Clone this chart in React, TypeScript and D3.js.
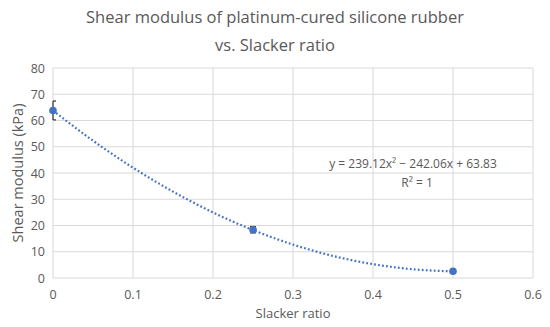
import * as d3 from 'd3'

const ratios = [0, 0.25, 0.5]
const modulus = [63.83, 18.4, 2.6]
const errors = [3.6, 1.2, 0.4]
const trendCoef = [239.12, -242.06, 63.83]
const xTicks = [0, 0.1, 0.2, 0.3, 0.4, 0.5, 0.6]
const yTicks = [0, 10, 20, 30, 40, 50, 60, 70, 80]

const width = 550
const height = 327
const marginLeft = 53
const marginRight = 17
const marginTop = 68
const marginBottom = 49

const font = "'Open Sans', 'Noto Sans', sans-serif"
const textColor = '#595959'
const blue = '#4472C4'

export default function App() {
  const x = d3.scaleLinear([0, 0.6], [marginLeft, width - marginRight])
  const y = d3.scaleLinear([0, 80], [height - marginBottom, marginTop])

  const trendX = d3.range(0, 0.5001, 0.005)
  const trend = d3
    .line<number>()
    .x((v) => x(v))
    .y((v) => y(trendCoef[0] * v * v + trendCoef[1] * v + trendCoef[2]))

  const plotMidX = (x(0) + x(0.6)) / 2

  return (
    <svg
      width={width}
      height={height}
      style={{ position: 'absolute', left: 0, top: 0, background: 'white' }}
      fontFamily={font}
    >
      <text x={275} y={23} textAnchor="middle" fontSize={16.5} fill={textColor}>
        Shear modulus of platinum-cured silicone rubber
      </text>
      <text x={275} y={51} textAnchor="middle" fontSize={16.5} fill={textColor}>
        vs. Slacker ratio
      </text>

      <g stroke="#d9d9d9" strokeWidth={1}>
        {yTicks.map((t) => (
          <line key={'y' + t} x1={x(0)} x2={x(0.6)} y1={y(t)} y2={y(t)} />
        ))}
        {xTicks.map((t) => (
          <line key={'x' + t} x1={x(t)} x2={x(t)} y1={y(0)} y2={y(80)} />
        ))}
      </g>

      <g fontSize={12.5} fill={textColor}>
        {yTicks.map((t) => (
          <text key={t} x={x(0) - 8} y={y(t) + 4.5} textAnchor="end">
            {t}
          </text>
        ))}
        {xTicks.map((t) => (
          <text key={t} x={x(t)} y={y(0) + 21} textAnchor="middle">
            {t}
          </text>
        ))}
      </g>

      <text x={plotMidX} y={318} textAnchor="middle" fontSize={13} fill={textColor}>
        Slacker ratio
      </text>
      <text
        transform={`translate(23,${(y(0) + y(80)) / 2}) rotate(-90)`}
        textAnchor="middle"
        fontSize={14.5}
        fill={textColor}
      >
        Shear modulus (kPa)
      </text>

      <path
        d={trend(trendX) || undefined}
        fill="none"
        stroke={blue}
        strokeWidth={2.2}
        strokeDasharray="1.8 2.2"
      />

      <g stroke="#404040" strokeWidth={1.3}>
        {ratios.map((r, i) => {
          const capLeft = r === 0 ? x(r) : x(r) - 3
          return (
            <g key={i}>
              <line x1={x(r)} x2={x(r)} y1={y(modulus[i] - errors[i])} y2={y(modulus[i] + errors[i])} />
              <line x1={capLeft} x2={x(r) + 3} y1={y(modulus[i] - errors[i])} y2={y(modulus[i] - errors[i])} />
              <line x1={capLeft} x2={x(r) + 3} y1={y(modulus[i] + errors[i])} y2={y(modulus[i] + errors[i])} />
            </g>
          )
        })}
      </g>

      <g fill={blue}>
        {ratios.map((r, i) => (
          <circle key={i} cx={x(r)} cy={y(modulus[i])} r={3.8} />
        ))}
      </g>

      <text x={413} y={168} textAnchor="middle" fontSize={12} fill={textColor}>
        y = 239.12x² − 242.06x + 63.83
      </text>
      <text x={417} y={187} textAnchor="middle" fontSize={12} fill={textColor}>
        R² = 1
      </text>
    </svg>
  )
}
